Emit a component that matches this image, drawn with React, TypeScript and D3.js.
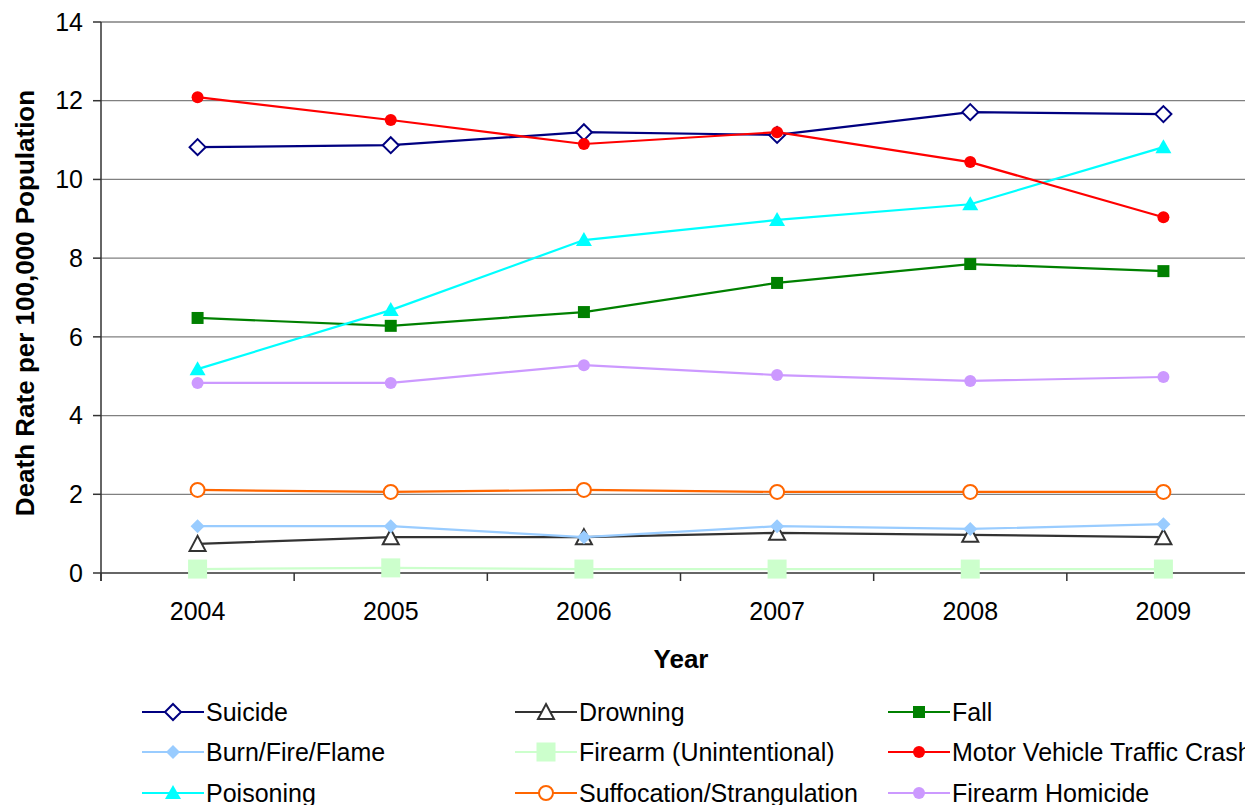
import React from "react";
import * as d3 from "d3";

const years = ["2004", "2005", "2006", "2007", "2008", "2009"];
const yTicks = [0, 2, 4, 6, 8, 10, 12, 14];

const suicide = [10.82, 10.87, 11.2, 11.13, 11.71, 11.66];
const drowning = [0.74, 0.91, 0.91, 1.02, 0.97, 0.91];
const fall = [6.48, 6.28, 6.63, 7.37, 7.85, 7.67];
const burn = [1.19, 1.19, 0.91, 1.19, 1.12, 1.24];
const firearmUnint = [0.1, 0.13, 0.1, 0.1, 0.1, 0.1];
const motorVehicle = [12.09, 11.51, 10.9, 11.2, 10.44, 9.04];
const poisoning = [5.18, 6.68, 8.46, 8.97, 9.37, 10.82];
const suffocation = [2.11, 2.06, 2.11, 2.06, 2.06, 2.06];
const firearmHom = [4.83, 4.83, 5.28, 5.03, 4.88, 4.98];

type Marker = "diamondOpen" | "triangleOpen" | "square" | "diamond" | "bigSquare" | "circle" | "triangle" | "circleOpen";

const series: { name: string; values: number[]; color: string; marker: Marker }[] = [
  { name: "Suicide", values: suicide, color: "#000080", marker: "diamondOpen" },
  { name: "Drowning", values: drowning, color: "#333333", marker: "triangleOpen" },
  { name: "Fall", values: fall, color: "#008000", marker: "square" },
  { name: "Burn/Fire/Flame", values: burn, color: "#99CCFF", marker: "diamond" },
  { name: "Firearm (Unintentional)", values: firearmUnint, color: "#CCFFCC", marker: "bigSquare" },
  { name: "Motor Vehicle Traffic Crash", values: motorVehicle, color: "#FF0000", marker: "circle" },
  { name: "Poisoning", values: poisoning, color: "#00FFFF", marker: "triangle" },
  { name: "Suffocation/Strangulation", values: suffocation, color: "#FF6600", marker: "circleOpen" },
  { name: "Firearm Homicide", values: firearmHom, color: "#CC99FF", marker: "circle" },
];

// draw order: back to front
const drawOrder = [4, 1, 3, 7, 8, 2, 6, 0, 5];

const FONT = "'Liberation Sans', Arial, sans-serif";

function MarkerShape({ m, x, y, color }: { m: Marker; x: number; y: number; color: string }) {
  switch (m) {
    case "diamondOpen":
      return <path d={`M${x},${y - 8}L${x + 8},${y}L${x},${y + 8}L${x - 8},${y}Z`} fill="#fff" stroke={color} strokeWidth={2} />;
    case "triangleOpen":
      return <path d={`M${x},${y - 8}L${x + 8},${y + 7}L${x - 8},${y + 7}Z`} fill="#fff" stroke={color} strokeWidth={2} />;
    case "square":
      return <rect x={x - 6} y={y - 6} width={12} height={12} fill={color} />;
    case "diamond":
      return <path d={`M${x},${y - 7}L${x + 7},${y}L${x},${y + 7}L${x - 7},${y}Z`} fill={color} />;
    case "bigSquare":
      return <rect x={x - 9.5} y={y - 9.5} width={19} height={19} fill={color} />;
    case "circle":
      return <circle cx={x} cy={y} r={6} fill={color} />;
    case "triangle":
      return <path d={`M${x},${y - 8}L${x + 8},${y + 6}L${x - 8},${y + 6}Z`} fill={color} />;
    case "circleOpen":
      return <circle cx={x} cy={y} r={7} fill="#fff" stroke={color} strokeWidth={2} />;
  }
  return null;
}

export default function App() {
  const left = 101;
  const right = 1260;
  const top = 22;
  const bottom = 573;

  const x = d3.scaleBand<string>().domain(years).range([left, right]);
  const y = d3.scaleLinear().domain([0, 14]).range([bottom, top]);
  const cx = (yr: string) => (x(yr) as number) + x.bandwidth() / 2;

  const line = d3
    .line<number>()
    .x((_, i) => cx(years[i]))
    .y((v) => y(v));

  const boundaries = years.map((yr) => x(yr) as number).concat([right]);

  const legendCols = [142, 515, 888];
  const legendRows = [712, 752, 793];

  return (
    <svg width={1245} height={805} style={{ position: "absolute", left: 0, top: 0 }} fontFamily={FONT}>
      <rect width={1245} height={805} fill="#fff" />
      {/* gridlines */}
      {yTicks.filter((t) => t > 0).map((t) => (
        <line key={t} x1={left} x2={1245} y1={y(t)} y2={y(t)} stroke="#808080" strokeWidth={1.3} />
      ))}
      {/* y axis */}
      <line x1={left} x2={left} y1={top} y2={bottom + 8} stroke="#333" strokeWidth={1.5} />
      {yTicks.map((t) => (
        <g key={t}>
          <line x1={left - 8} x2={left} y1={y(t)} y2={y(t)} stroke="#333" strokeWidth={1.5} />
          <text x={83} y={y(t)} dy="0.35em" textAnchor="end" fontSize={25} fill="#000">
            {t}
          </text>
        </g>
      ))}
      {/* x axis */}
      <line x1={left} x2={1245} y1={bottom} y2={bottom} stroke="#333" strokeWidth={1.5} />
      {boundaries.map((b, i) => (
        <line key={i} x1={b} x2={b} y1={bottom} y2={bottom + 8} stroke="#333" strokeWidth={1.5} />
      ))}
      {years.map((yr) => (
        <text key={yr} x={cx(yr)} y={620} textAnchor="middle" fontSize={25} fill="#000">
          {yr}
        </text>
      ))}
      <text x={681} y={668} textAnchor="middle" fontSize={26} fontWeight="bold" fill="#000">
        Year
      </text>
      <text
        transform={`translate(34,${303}) rotate(-90)`}
        textAnchor="middle"
        fontSize={26}
        fontWeight="bold"
        fill="#000"
      >
        Death Rate per 100,000 Population
      </text>
      {/* series */}
      {drawOrder.map((si) => {
        const s = series[si];
        return (
          <g key={s.name}>
            <path d={line(s.values) as string} fill="none" stroke={s.color} strokeWidth={2.2} />
            {s.values.map((v, i) => (
              <MarkerShape key={i} m={s.marker} x={cx(years[i])} y={y(v)} color={s.color} />
            ))}
          </g>
        );
      })}
      {/* legend */}
      {series.map((s, i) => {
        const lx = legendCols[i % 3];
        const ly = legendRows[Math.floor(i / 3)];
        return (
          <g key={s.name}>
            <line x1={lx} x2={lx + 62} y1={ly} y2={ly} stroke={s.color} strokeWidth={2.2} />
            <MarkerShape m={s.marker} x={lx + 31} y={ly} color={s.color} />
            <text x={lx + 64} y={ly} dy="0.35em" fontSize={25} fill="#000">
              {s.name}
            </text>
          </g>
        );
      })}
    </svg>
  );
}
